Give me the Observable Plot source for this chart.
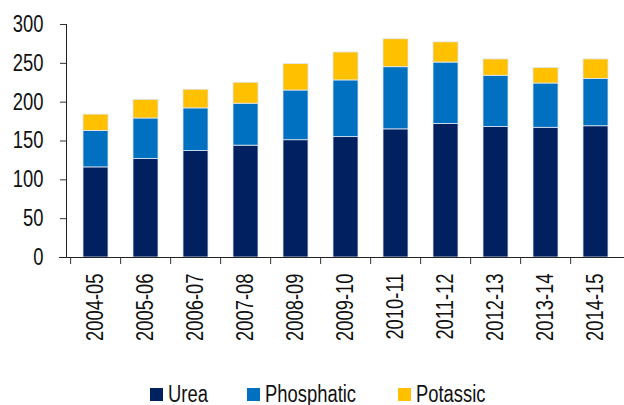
<!DOCTYPE html>
<html>
<head>
<meta charset="utf-8">
<script src="https://cdn.jsdelivr.net/npm/d3@7"></script>
<script src="https://cdn.jsdelivr.net/npm/@observablehq/plot@0.6"></script>
<style>
  html, body { margin: 0; padding: 0; background: #fff; overflow: hidden; }
  #chart { width: 624px; }
  .nf { font-family: "Liberation Sans", Arial, sans-serif; }
  #legend { position: relative; height: 30px; width: 624px; }
  .item { position: absolute; top: 4px; height: 30px; display: flex; align-items: center; font-size: 23px; color: #111; }
  .sw { width: 13px; height: 13px; margin-right: 5px; flex: none; }
  .lt { display: inline-block; transform: scaleX(0.8); transform-origin: left center; white-space: nowrap; }
</style>
</head>
<body>
<div id="chart"></div>
<script>
const years = ["2004-05","2005-06","2006-07","2007-08","2008-09","2009-10","2010-11","2011-12","2012-13","2013-14","2014-15"];
const urea       = [116, 127, 137, 144, 151, 155, 165, 172, 168, 167, 169];
const phosphatic = [ 47,  52,  55,  54,  64,  73,  80,  79,  66,  57,  61];
const potassic   = [ 21,  24,  24,  27,  34,  36,  36,  26,  21,  20,  25];
const seriesNames = ["Urea", "Phosphatic", "Potassic"];
const seriesColors = ["#002060", "#0070C0", "#FFC000"];
const yTicks = [0, 50, 100, 150, 200, 250, 300];

const seriesValues = [urea, phosphatic, potassic];
const data = [];
seriesNames.forEach((s, i) => years.forEach((y, j) => data.push({year: y, series: s, value: seriesValues[i][j]})));

const W = 624, H = 375, ML = 66, MR = 0;
const step = (W - ML - MR) / years.length;

const chart = Plot.plot({
  width: W,
  height: H,
  marginTop: 24,
  marginBottom: 118,
  marginLeft: ML,
  marginRight: MR,
  style: {fontFamily: '"Liberation Sans", Arial, sans-serif', fontSize: "23px", color: "#111"},
  x: {domain: years, paddingInner: 0.5, paddingOuter: 0.25, align: 0.5},
  y: {domain: [0, 300]},
  color: {domain: seriesNames, range: seriesColors},
  marks: [
    Plot.barY(data, Plot.stackY({x: "year", y: "value", fill: "series", order: seriesNames, stroke: "#dfe6f2", strokeWidth: 0.8})),
    Plot.axisY({ticks: yTicks, tickSize: 6, tickPadding: 17, label: null, stroke: "#333", fontSize: 23}),
    Plot.axisX({tickSize: 7, text: null, dx: -step / 2, label: null, stroke: "#333"}),
    Plot.axisX({tickSize: 0, tickPadding: 16, tickRotate: -90, label: null, fontSize: 23}),
    Plot.frame({anchor: "left", stroke: "#222"}),
    Plot.ruleY([0], {stroke: "#222", insetLeft: -7})
  ]
});
// condense the tick label glyphs horizontally (narrow face look)
chart.querySelectorAll("text").forEach(t => {
  const tr = t.getAttribute("transform") || "";
  t.setAttribute("transform", (tr + " scale(0.8,1)").trim());
});
document.getElementById("chart").appendChild(chart);

const legend = document.createElement("div");
legend.id = "legend";
legend.className = "nf";
const lefts = [150, 247, 398];
seriesNames.forEach((s, i) => {
  const it = document.createElement("div");
  it.className = "item nf";
  it.style.left = lefts[i] + "px";
  const sw = document.createElement("span");
  sw.className = "sw";
  sw.style.background = seriesColors[i];
  const t = document.createElement("span");
  t.className = "lt";
  t.textContent = s;
  it.appendChild(sw);
  it.appendChild(t);
  legend.appendChild(it);
});
document.body.appendChild(legend);
</script>
</body>
</html>
